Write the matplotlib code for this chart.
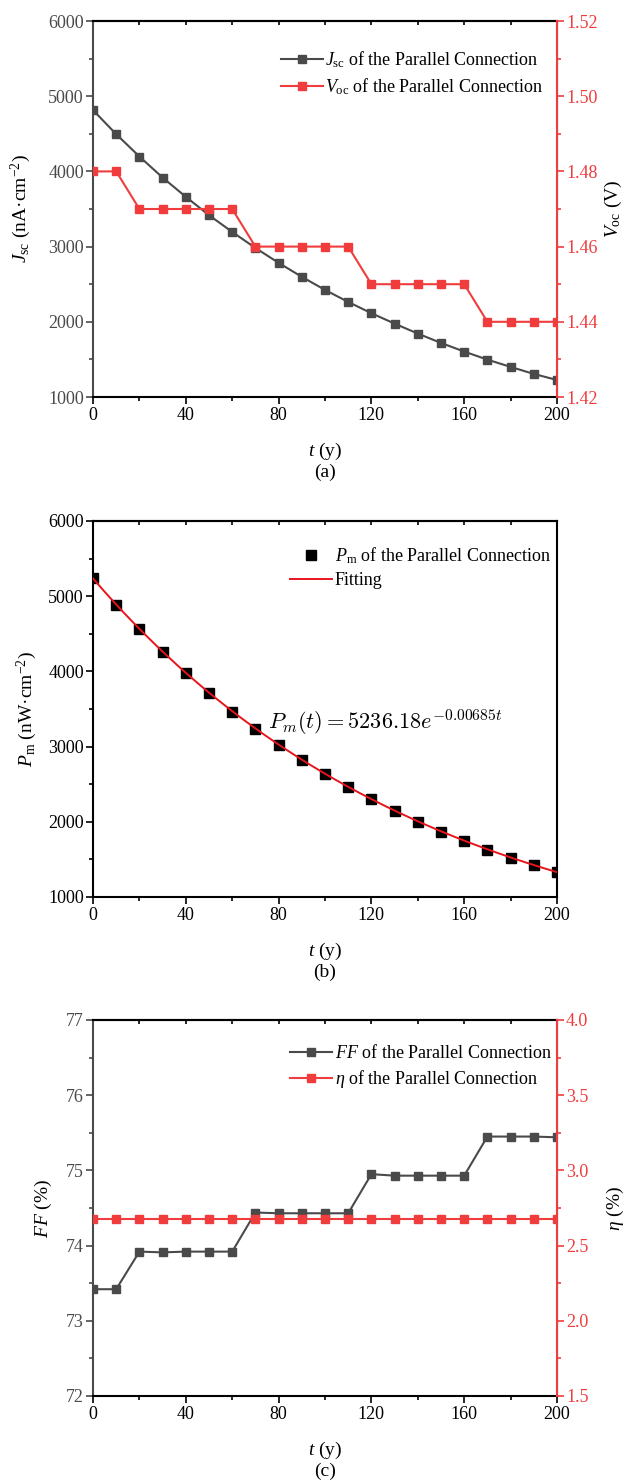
import numpy as np
import matplotlib
matplotlib.use("Agg")
import matplotlib.pyplot as plt
from matplotlib.ticker import MultipleLocator

plt.rcParams['font.family'] = ['Liberation Serif', 'DejaVu Serif']
plt.rcParams['mathtext.fontset'] = 'custom'
plt.rcParams['mathtext.rm'] = 'Liberation Serif'
plt.rcParams['mathtext.it'] = 'Liberation Serif:italic'
plt.rcParams['mathtext.bf'] = 'Liberation Serif:bold'

# ---------------- data ----------------
t = [0, 10, 20, 30, 40, 50, 60, 70, 80, 90, 100, 110, 120, 130, 140, 150, 160, 170, 180, 190, 200]
jsc = [4815, 4495, 4198, 3918, 3662, 3418, 3195, 2982, 2784, 2598, 2424, 2264, 2114, 1976, 1843, 1719, 1604, 1497, 1400, 1307, 1226]
voc = [1.48, 1.48, 1.47, 1.47, 1.47, 1.47, 1.47, 1.46, 1.46, 1.46, 1.46, 1.46, 1.45, 1.45, 1.45, 1.45, 1.45, 1.44, 1.44, 1.44, 1.44]
pm = [5238, 4880, 4560, 4258, 3975, 3713, 3466, 3238, 3021, 2822, 2632, 2463, 2299, 2144, 2002, 1869, 1745, 1629, 1519, 1421, 1328]
fit_a = 5236.18
fit_k = 0.00685
ff = [73.42, 73.42, 73.92, 73.91, 73.92, 73.92, 73.92, 74.44, 74.43, 74.43, 74.43, 74.43, 74.95, 74.93, 74.93, 74.93, 74.93, 75.45, 75.45, 75.45, 75.44]
eta = [2.68] * 21

GRAY = '#4a4a4a'
RED = '#f03c3c'
W, H = 624, 1483
fig = plt.figure(figsize=(W / 100, H / 100), dpi=100)

def frac_rect(top_px):
    left, right, h = 93, 557, 376
    return [left / W, 1 - (top_px + h) / H, (right - left) / W, h / H]

FS = 13
LFS = 14

def style_x(ax):
    ax.set_xlim(0, 200)
    ax.xaxis.set_major_locator(MultipleLocator(40))
    ax.xaxis.set_minor_locator(MultipleLocator(20))
    ax.tick_params(axis='x', which='major', direction='out', length=5, width=1.2, labelsize=FS, pad=2, top=False, colors='black')
    ax.tick_params(axis='x', which='minor', direction='out', length=3, width=1.2, top=False)
    sec = ax.secondary_xaxis('top')
    sec.xaxis.set_major_locator(MultipleLocator(20))
    sec.tick_params(axis='x', which='both', direction='in', length=3, width=1.2, labeltop=False)
    sec.spines['top'].set_linewidth(1.5)
    ax.spines['bottom'].set_linewidth(1.5)
    ax.spines['top'].set_linewidth(1.5)
    ax.set_xlabel(r'$t$ (y)', fontsize=LFS)
    ax.xaxis.set_label_coords(0.5, -0.117)

def style_left(ax, color, major, minor, lo, hi):
    ax.set_ylim(lo, hi)
    ax.yaxis.set_major_locator(MultipleLocator(major))
    ax.yaxis.set_minor_locator(MultipleLocator(minor))
    ax.tick_params(axis='y', which='major', direction='out', length=5, width=1.2, labelsize=FS, colors=color, pad=1.5)
    ax.tick_params(axis='y', which='minor', direction='out', length=3, width=1.2, colors=color)
    ax.spines['left'].set_color(color)
    ax.spines['left'].set_linewidth(1.5)

def style_right(ax2, color, major, minor, lo, hi):
    ax2.set_ylim(lo, hi)
    ax2.yaxis.set_major_locator(MultipleLocator(major))
    ax2.yaxis.set_minor_locator(MultipleLocator(minor))
    ax2.tick_params(axis='y', which='major', direction='out', length=5, width=1.2, labelsize=FS, colors=color, pad=1.5)
    ax2.tick_params(axis='y', which='minor', direction='out', length=3, width=1.2, colors=color)
    ax2.spines['right'].set_color(color)
    ax2.spines['right'].set_linewidth(1.5)
    for s in ['left', 'top', 'bottom']:
        ax2.spines[s].set_visible(False)

LEG = dict(loc='upper left', frameon=False, fontsize=FS, handlelength=2.3, handletextpad=0.15,
           labelspacing=0.35, borderaxespad=0)

# ---------------- panel (a) ----------------
ax = fig.add_axes(frac_rect(21))
ax2 = ax.twinx()
l1, = ax.plot(t, jsc, color=GRAY, marker='s', ms=5.5, lw=1.5, label=r'$J_{\rm sc}$ of the Parallel Connection', zorder=3)
l2, = ax2.plot(t, voc, color=RED, marker='s', ms=5.5, lw=1.5, label=r'$V_{\rm oc}$ of the Parallel Connection', zorder=3)
style_x(ax)
style_left(ax, GRAY, 1000, 500, 1000, 6000)
style_right(ax2, RED, 0.02, 0.01, 1.42, 1.52)
ax2.yaxis.set_major_formatter(matplotlib.ticker.FormatStrFormatter('%.2f'))
ax.set_ylabel(r'$J_{\rm sc}$ (nA·cm$^{-2}$)', fontsize=LFS, color='black')
ax.yaxis.set_label_coords(-0.129, 0.5)
ax2.set_ylabel(r'$V_{\rm oc}$ (V)', fontsize=LFS, color='black')
ax2.yaxis.set_label_coords(1.098, 0.5)
ax.legend([l1, l2], [l1.get_label(), l2.get_label()], bbox_to_anchor=(0.39, 0.945), **LEG)
ax.text(0.5, -0.2, '(a)', transform=ax.transAxes, ha='center', va='center', fontsize=LFS)

# ---------------- panel (b) ----------------
bx = fig.add_axes(frac_rect(521))
tt = np.linspace(0, 200, 400)
p1, = bx.plot(t, pm, ls='none', marker='s', ms=6.5, color='black', label=r'$P_{\rm m}$ of the Parallel Connection', zorder=2)
p2, = bx.plot(tt, fit_a * np.exp(-fit_k * tt), color='#e8141c', lw=1.4, label='Fitting', zorder=3)
style_x(bx)
style_left(bx, 'black', 1000, 500, 1000, 6000)
bx.spines['right'].set_linewidth(1.5)
bx.set_ylabel(r'$P_{\rm m}$ (nW·cm$^{-2}$)', fontsize=LFS)
bx.yaxis.set_label_coords(-0.116, 0.5)
bx.legend([p1, p2], [p1.get_label(), p2.get_label()], bbox_to_anchor=(0.41, 0.955), **LEG)
bx.text(0.378, 0.465, r'$P_m(t) = 5236.18e^{-0.00685t}$', transform=bx.transAxes, fontsize=16,
        math_fontfamily='cm', ha='left', va='center')
bx.text(0.5, -0.2, '(b)', transform=bx.transAxes, ha='center', va='center', fontsize=LFS)

# ---------------- panel (c) ----------------
cx = fig.add_axes(frac_rect(1020))
cx2 = cx.twinx()
f1, = cx.plot(t, ff, color=GRAY, marker='s', ms=5.5, lw=1.5, label=r'$FF$ of the Parallel Connection', zorder=3)
f2, = cx2.plot(t, eta, color=RED, marker='s', ms=5.5, lw=1.5, label=r'$\eta$ of the Parallel Connection', zorder=3)
style_x(cx)
style_left(cx, GRAY, 1, 0.5, 72, 77)
style_right(cx2, RED, 0.5, 0.25, 1.5, 4.0)
cx2.yaxis.set_major_formatter(matplotlib.ticker.FormatStrFormatter('%.1f'))
cx.set_ylabel(r'$FF$ (%)', fontsize=LFS)
cx.yaxis.set_label_coords(-0.084, 0.5)
cx2.set_ylabel(r'$\eta$ (%)', fontsize=LFS)
cx2.yaxis.set_label_coords(1.103, 0.5)
cx.legend([f1, f2], [f1.get_label(), f2.get_label()], bbox_to_anchor=(0.41, 0.955), **LEG)
cx.text(0.5, -0.2, '(c)', transform=cx.transAxes, ha='center', va='center', fontsize=LFS)

fig.savefig('out.png', dpi=100)
